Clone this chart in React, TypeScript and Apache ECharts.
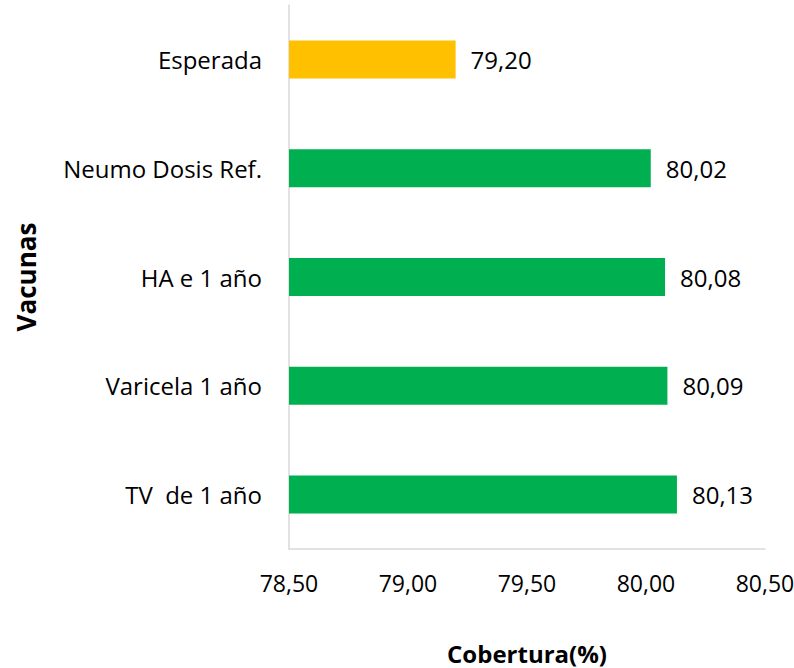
import React, { useEffect, useRef } from "react";
import * as echarts from "echarts";

const categories = ["TV  de 1 año", "Varicela 1 año", "HA e 1 año", "Neumo Dosis Ref.", "Esperada"];
const values = [80.13, 80.09, 80.08, 80.02, 79.2];
const barColors = ["#00B050", "#00B050", "#00B050", "#00B050", "#FFC000"];
const xMin = 78.5;
const xMax = 80.5;
const xStep = 0.5;

const FONT = "'Open Sans', 'Noto Sans', sans-serif";

export default function App() {
  const ref = useRef<HTMLDivElement>(null);
  useEffect(() => {
    if (!ref.current) return;
    const chart = echarts.init(ref.current, undefined, { renderer: "svg" });
    chart.setOption({
      animation: false,
      backgroundColor: "#fff",
      grid: { left: 289, right: 29, top: 5, bottom: 119, containLabel: false, outerBoundsMode: "none" },
      xAxis: {
        type: "value",
        min: xMin,
        max: xMax,
        interval: xStep,
        name: "Cobertura(%)",
        nameLocation: "middle",
        nameGap: 92,
        nameTextStyle: { fontFamily: FONT, fontSize: 24, fontWeight: "bold", color: "#000" },
        axisLine: { show: true, lineStyle: { color: "#d9d9d9", width: 1.5 } },
        axisTick: { show: false },
        splitLine: { show: false },
        axisLabel: {
          margin: 22,
          fontFamily: FONT,
          fontSize: 23,
          color: "#000",
          formatter: (v: number) => v.toFixed(2).replace(".", ","),
        },
      },
      yAxis: {
        type: "category",
        data: categories,
        name: "Vacunas",
        nameLocation: "middle",
        nameGap: 250,
        nameRotate: 90,
        nameTextStyle: { fontFamily: FONT, fontSize: 26, fontWeight: "bold", color: "#000" },
        axisLine: { show: true, lineStyle: { color: "#d9d9d9", width: 1.5 } },
        axisTick: { show: false },
        axisLabel: { margin: 27, fontFamily: FONT, fontSize: 24, color: "#000" },
      },
      series: [
        {
          type: "bar",
          barWidth: 38,
          data: values.map((v, i) => ({ value: v, itemStyle: { color: barColors[i] } })),
          label: {
            show: true,
            position: "right",
            distance: 15,
            fontFamily: FONT,
            fontSize: 24,
            color: "#000",
            formatter: (p: any) => Number(p.value).toFixed(2).replace(".", ","),
          },
        },
      ],
    });
    return () => chart.dispose();
  }, []);
  return <div ref={ref} style={{ position: "fixed", left: 0, top: 0, width: 794, height: 668 }} />;
}
